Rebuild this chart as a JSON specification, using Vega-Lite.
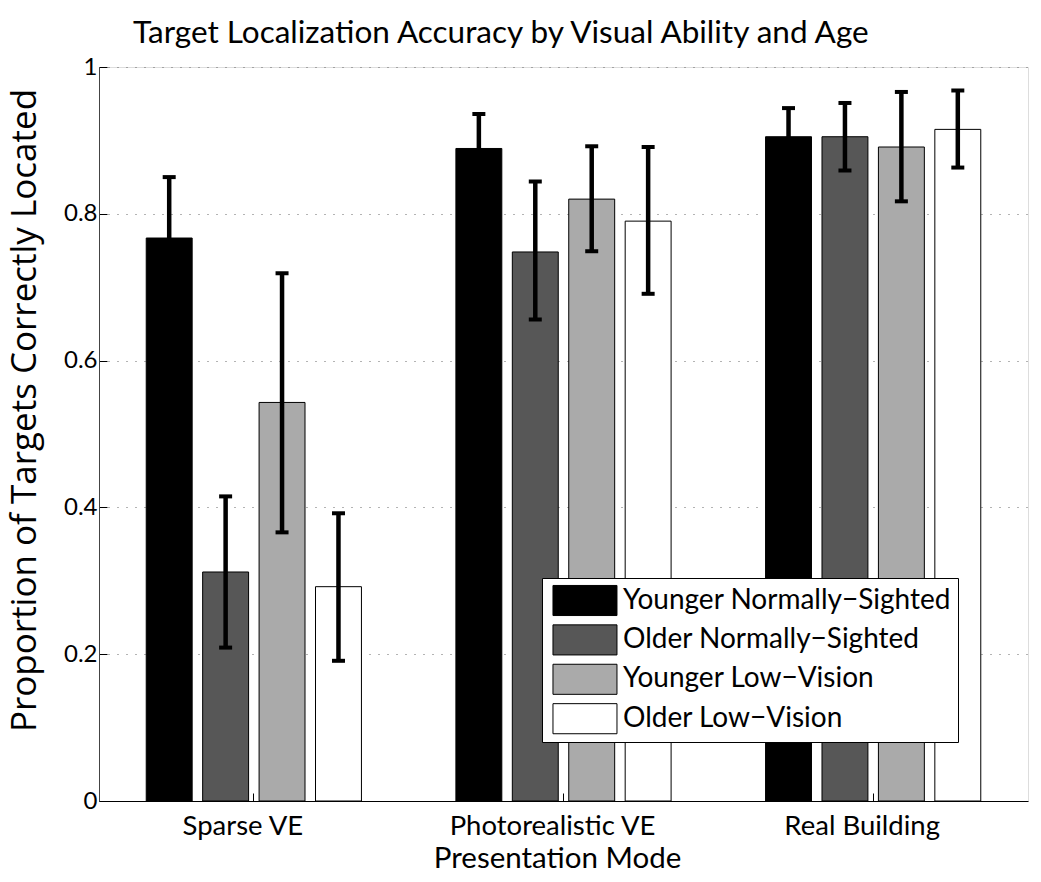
{
  "$schema": "https://vega.github.io/schema/vega-lite/v6.json",
  "width": 929,
  "height": 734,
  "autosize": {"type": "none"},
  "padding": {"left": 99, "top": 67, "right": 13, "bottom": 81},
  "background": "white",
  "title": {
    "text": "Target Localization Accuracy by Visual Ability and Age",
    "anchor": "start",
    "frame": "group",
    "dx": 34,
    "offset": 6,
    "font": "Lato",
    "fontSize": 31.5,
    "fontWeight": "normal",
    "color": "black"
  },
  "data": {
    "values": [
      {"mode": "Sparse VE", "group": "Younger Normally−Sighted", "value": 0.767, "lo": 0.684, "hi": 0.850},
      {"mode": "Sparse VE", "group": "Older Normally−Sighted", "value": 0.312, "lo": 0.209, "hi": 0.415},
      {"mode": "Sparse VE", "group": "Younger Low−Vision", "value": 0.543, "lo": 0.366, "hi": 0.719},
      {"mode": "Sparse VE", "group": "Older Low−Vision", "value": 0.292, "lo": 0.191, "hi": 0.392},
      {"mode": "Photorealistic VE", "group": "Younger Normally−Sighted", "value": 0.889, "lo": 0.842, "hi": 0.936},
      {"mode": "Photorealistic VE", "group": "Older Normally−Sighted", "value": 0.748, "lo": 0.656, "hi": 0.844},
      {"mode": "Photorealistic VE", "group": "Younger Low−Vision", "value": 0.820, "lo": 0.749, "hi": 0.892},
      {"mode": "Photorealistic VE", "group": "Older Low−Vision", "value": 0.790, "lo": 0.691, "hi": 0.891},
      {"mode": "Real Building", "group": "Younger Normally−Sighted", "value": 0.905, "lo": 0.866, "hi": 0.944},
      {"mode": "Real Building", "group": "Older Normally−Sighted", "value": 0.905, "lo": 0.859, "hi": 0.951},
      {"mode": "Real Building", "group": "Younger Low−Vision", "value": 0.891, "lo": 0.817, "hi": 0.966},
      {"mode": "Real Building", "group": "Older Low−Vision", "value": 0.915, "lo": 0.863, "hi": 0.968}
    ]
  },
  "encoding": {
    "x": {
      "field": "mode",
      "type": "nominal",
      "sort": ["Sparse VE", "Photorealistic VE", "Real Building"],
      "scale": {"paddingInner": 0, "paddingOuter": 0},
      "axis": {
        "title": "Presentation Mode",
        "titleX": 458,
        "labelAngle": 0,
        "labelFont": "Lato",
        "labelFontSize": 27.5,
        "labelColor": "black",
        "labelPadding": 19,
        "labelOffset": -11,
        "labelLimit": 400,
        "tickSize": -8,
        "tickColor": "black",
        "domainColor": "black",
        "titleFont": "Lato",
        "titleFontSize": 29.5,
        "titleFontWeight": "normal",
        "titleColor": "black",
        "titlePadding": 5
      }
    },
    "xOffset": {
      "field": "group",
      "type": "nominal",
      "sort": ["Younger Normally−Sighted", "Older Normally−Sighted", "Younger Low−Vision", "Older Low−Vision"],
      "scale": {"paddingInner": 0.186, "paddingOuter": 0.837}
    }
  },
  "layer": [
    {
      "mark": {"type": "bar", "stroke": "black", "strokeWidth": 1},
      "encoding": {
        "y": {
          "field": "value",
          "type": "quantitative",
          "scale": {"domain": [0, 1]},
          "axis": {
            "title": "Proportion of Targets Correctly Located",
            "titleY": 343,
            "values": [0, 0.2, 0.4, 0.6, 0.8, 1],
            "labelExpr": "toString(datum.value)",
            "labelFont": "Lato",
            "labelFontSize": 24,
            "labelColor": "black",
            "labelPadding": 10,
            "tickSize": -8,
            "tickColor": "black",
            "domainColor": "#444444",
            "grid": true,
            "gridColor": "#666666",
            "gridDash": [1, 8],
            "gridWidth": 1,
            "titleFont": "Open Sans",
            "titleFontSize": 35,
            "titleFontWeight": "normal",
            "titleColor": "black",
            "titlePadding": 21
          }
        },
        "fill": {
          "field": "group",
          "type": "nominal",
          "sort": ["Younger Normally−Sighted", "Older Normally−Sighted", "Younger Low−Vision", "Older Low−Vision"],
          "scale": {"range": ["#000000", "#575757", "#aaaaaa", "#ffffff"]},
          "legend": {
            "title": null,
            "orient": "none",
            "legendX": 443,
            "legendY": 511,
            "padding": 6,
            "rowPadding": 4.4,
            "strokeColor": "black",
            "fillColor": "white",
            "symbolType": "M-0.72,-0.94H3.28V0.94H-0.72Z",
            "symbolSize": 1024,
            "symbolStrokeColor": "black",
            "symbolStrokeWidth": 1,
            "symbolOpacity": 1,
            "labelFont": "Lato",
            "labelFontSize": 28,
            "labelColor": "black",
            "labelOffset": 42,
            "labelLimit": 500
          }
        }
      }
    },
    {
      "mark": {"type": "rule", "color": "black", "strokeWidth": 4.5},
      "encoding": {
        "y": {"field": "lo", "type": "quantitative"},
        "y2": {"field": "hi"}
      }
    },
    {
      "mark": {"type": "tick", "color": "black", "thickness": 4, "size": 13, "opacity": 1},
      "encoding": {"y": {"field": "hi", "type": "quantitative"}}
    },
    {
      "mark": {"type": "tick", "color": "black", "thickness": 4, "size": 13, "opacity": 1},
      "encoding": {"y": {"field": "lo", "type": "quantitative"}}
    }
  ]
}
